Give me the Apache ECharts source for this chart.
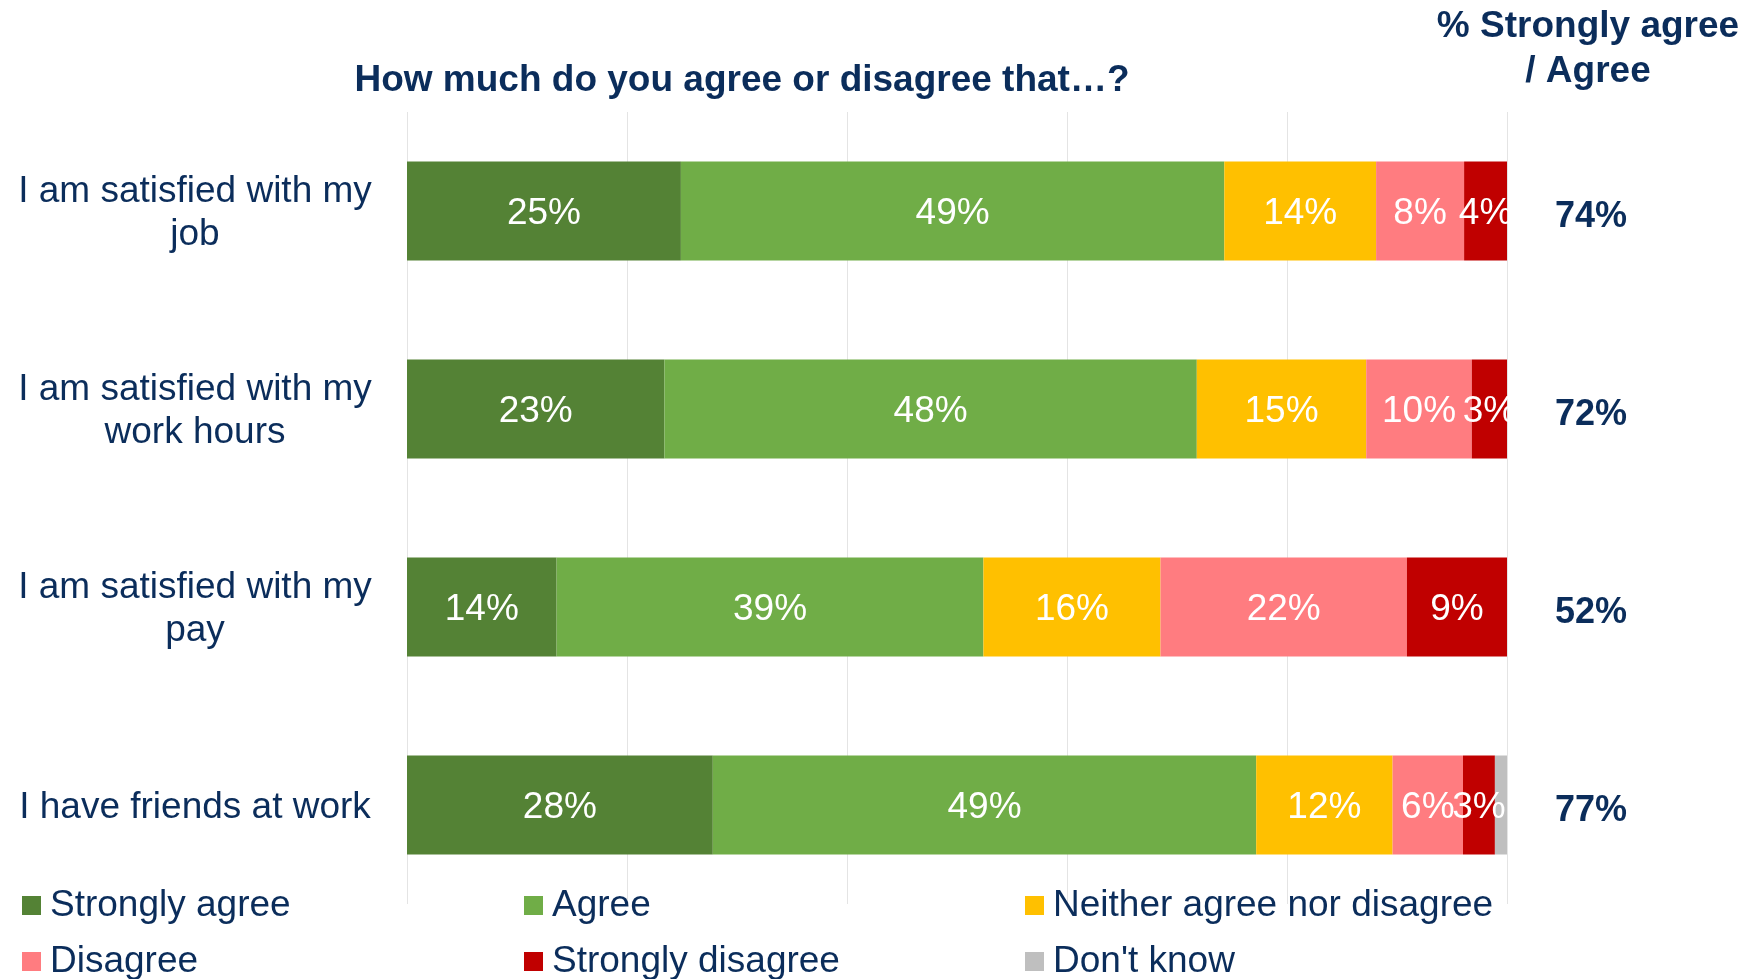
<!DOCTYPE html>
<html>
<head>
<meta charset="utf-8">
<script src="https://cdn.jsdelivr.net/npm/echarts@6/dist/echarts.min.js"></script>
<style>
  html, body { margin: 0; padding: 0; background: #ffffff; }
  #chart { width: 1744px; height: 979px; }
</style>
</head>
<body>
<div id="chart"></div>
<script>
// Survey statements (top to bottom)
const categories = [
  'I am satisfied with my\njob',
  'I am satisfied with my\nwork hours',
  'I am satisfied with my\npay',
  'I have friends at work'
];

// Share of respondents per answer, in percent
const stronglyAgree    = [24.9, 23.4, 13.6, 27.8];
const agree            = [49.4, 48.4, 38.8, 49.4];
const neither          = [13.8, 15.4, 16.1, 12.4];
const disagree         = [8.0, 9.6, 22.4, 6.4];
const stronglyDisagree = [3.9, 3.2, 9.1, 2.9];
const dontKnow         = [0, 0, 0, 1.1];

const seriesNames = ['Strongly agree', 'Agree', 'Neither agree nor disagree',
                     'Disagree', 'Strongly disagree', "Don't know"];
const seriesValues = [stronglyAgree, agree, neither, disagree, stronglyDisagree, dontKnow];
const seriesColors = ['#548235', '#70AD47', '#FFC000', '#FF7C80', '#C00000', '#BFBFBF'];

// Net agreement column on the right
const netAgree = stronglyAgree.map((v, i) => Math.round(v + agree[i]) + '%');

const navy = '#0B2D5B';
const font = 'Liberation Sans, Arial, sans-serif';

const chart = echarts.init(document.getElementById('chart'));

// One legend per entry so the entries sit in fixed columns
const legendSlots = [
  { left: 22, top: 887 }, { left: 524, top: 887 }, { left: 1025, top: 887 },
  { left: 22, top: 943 }, { left: 524, top: 943 }, { left: 1025, top: 943 }
];
const legends = seriesNames.map((name, i) => ({
  data: [name],
  left: legendSlots[i].left,
  top: legendSlots[i].top,
  padding: 0,
  icon: 'rect',
  itemWidth: 19,
  itemHeight: 19,
  selectedMode: false,
  textStyle: { color: navy, fontSize: 37, fontFamily: font, padding: [0, 0, 0, 4] }
}));

const series = seriesNames.map((name, i) => ({
  name: name,
  type: 'bar',
  stack: 'total',
  barWidth: 99,
  data: seriesValues[i],
  itemStyle: { color: seriesColors[i] },
  label: {
    show: true,
    position: 'inside',
    offset: [0, 3],
    color: '#ffffff',
    fontSize: 37,
    fontFamily: font,
    formatter: p => (p.value >= 2 ? Math.round(p.value) + '%' : '')
  },
  emphasis: { disabled: true }
}));

chart.setOption({
  backgroundColor: '#ffffff',
  animation: false,
  title: [
    {
      text: 'How much do you agree or disagree that…?',
      left: 742,
      top: 62,
      textAlign: 'center',
      padding: 0,
      textStyle: { color: navy, fontSize: 37, fontWeight: 'bold', fontFamily: font }
    },
    {
      text: '% Strongly agree\n/ Agree',
      left: 1588,
      top: 4,
      textAlign: 'center',
      padding: 0,
      textStyle: { color: navy, fontSize: 37, fontWeight: 'bold', fontFamily: font, lineHeight: 45, align: 'center' }
    }
  ],
  legend: legends,
  grid: { left: 407, right: 237, top: 112, height: 792, containLabel: false },
  xAxis: {
    type: 'value',
    min: 0,
    max: 100,
    interval: 20,
    axisLabel: { show: false },
    axisLine: { show: false },
    axisTick: { show: false },
    splitLine: { show: true, lineStyle: { color: '#E4E4E4', width: 1 } }
  },
  yAxis: [
    {
      type: 'category',
      data: categories,
      inverse: true,
      axisLine: { show: false },
      axisTick: { show: false },
      axisLabel: {
        align: 'center',
        margin: 212,
        formatter: v => v.split('\n').map(line => '{c|' + line + '}').join('\n'),
        rich: {
          c: {
            color: navy,
            fontSize: 37,
            fontFamily: font,
            lineHeight: 43,
            align: 'center',
            padding: [5, 0, 0, 0]
          }
        }
      }
    },
    {
      type: 'category',
      data: netAgree,
      inverse: true,
      position: 'right',
      axisLine: { show: false },
      axisTick: { show: false },
      axisLabel: {
        align: 'center',
        margin: 84,
        formatter: v => '{t|' + v + '}',
        rich: {
          t: {
            color: navy,
            fontSize: 36,
            fontWeight: 'bold',
            fontFamily: font,
            lineHeight: 44,
            padding: [12, 0, 0, 0]
          }
        }
      }
    }
  ],
  series: series
});
</script>
</body>
</html>
